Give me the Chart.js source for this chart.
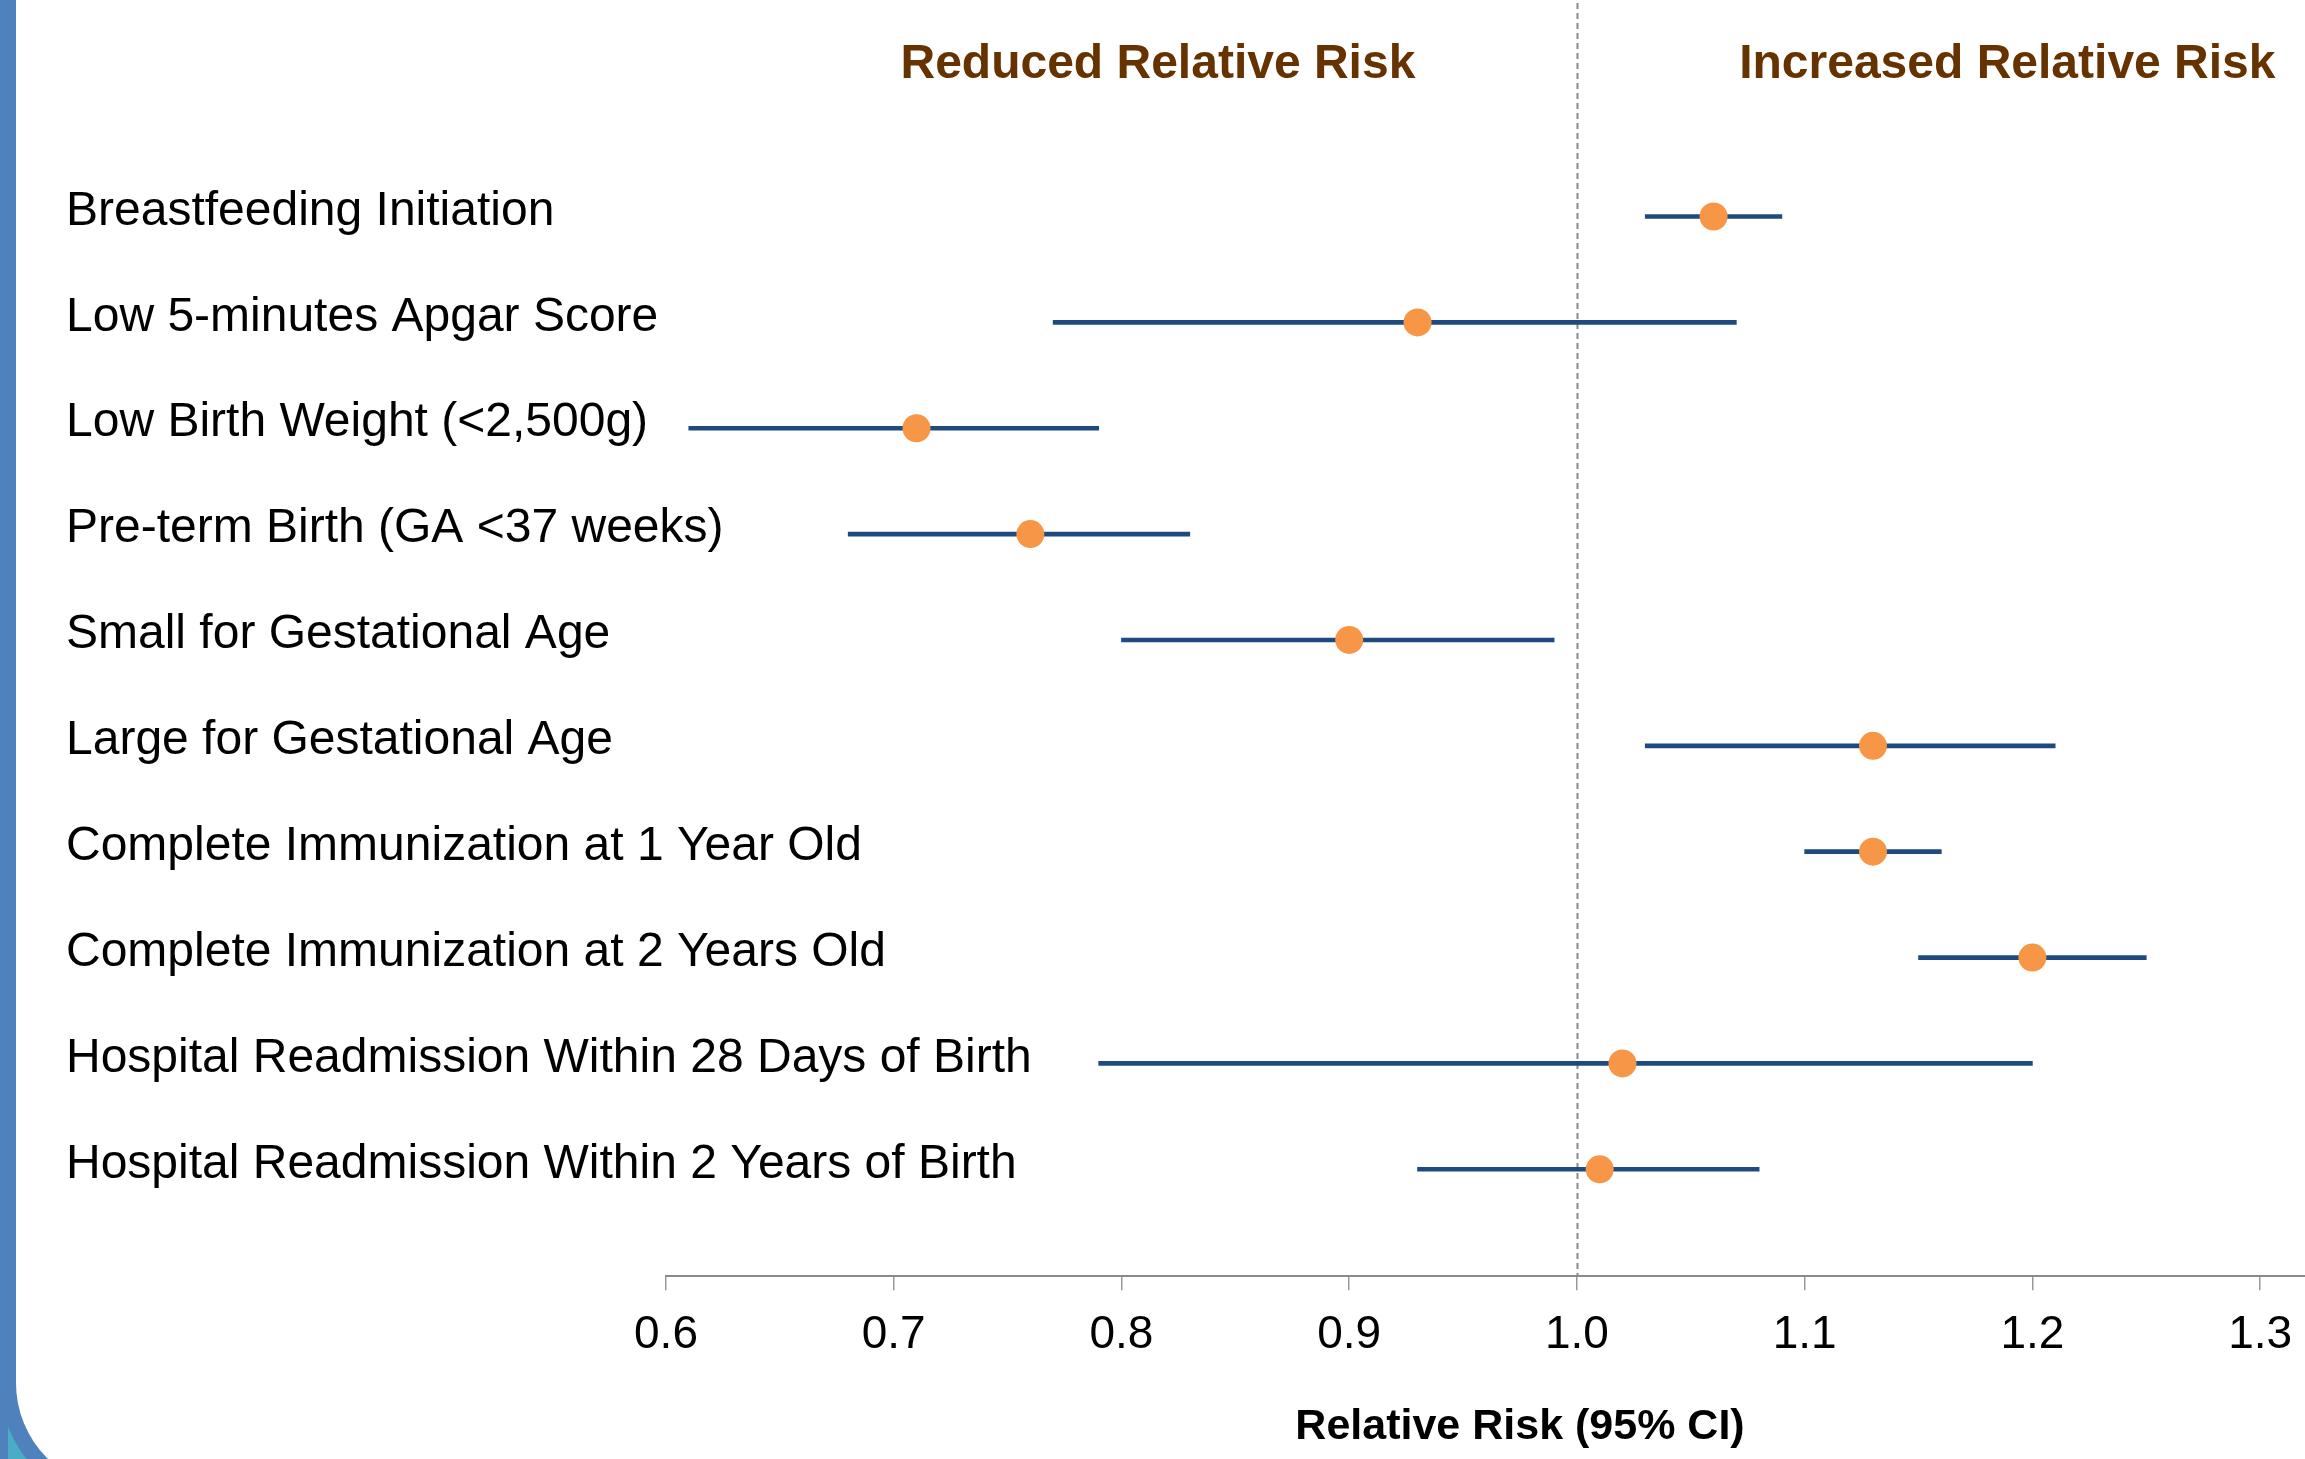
<!DOCTYPE html>
<html>
<head>
<meta charset="utf-8">
<title>Relative Risk (95% CI)</title>
<script src="https://cdn.jsdelivr.net/npm/chart.js@4.4.1/dist/chart.umd.min.js"></script>
<style>
html, body { margin: 0; padding: 0; width: 2305px; height: 1459px; overflow: hidden; background: #fff; position: relative; }
.teal { position: absolute; left: 8px; top: 1383px; width: 150px; height: 100px; background: #4BACC6; }
.ring { position: absolute; left: 0; top: -200px; width: 2600px; height: 1705px; background: #4F81BD; border-bottom-left-radius: 122px; }
.strip { position: absolute; left: 0; top: 0; width: 8px; height: 1459px; background: #4F81BD; }
.sheet { position: absolute; left: 16px; top: -200px; width: 2600px; height: 1689px; background: #fff; border-bottom-left-radius: 106px; }
canvas { position: absolute; left: 0; top: 0; }
</style>
</head>
<body>
<div class="teal"></div>
<div class="ring"></div>
<div class="strip"></div>
<div class="sheet"></div>
<canvas id="chart" width="2388" height="1459"></canvas>
<script>
var categories = [
    'Breastfeeding Initiation',
    'Low 5-minutes Apgar Score',
    'Low Birth Weight (<2,500g)',
    'Pre-term Birth (GA <37 weeks)',
    'Small for Gestational Age',
    'Large for Gestational Age',
    'Complete Immunization at 1 Year Old',
    'Complete Immunization at 2 Years Old',
    'Hospital Readmission Within 28 Days of Birth',
    'Hospital Readmission Within 2 Years of Birth'
]
var estimates = [1.06, 0.93, 0.71, 0.76, 0.90, 1.13, 1.13, 1.20, 1.02, 1.01]
var lowerCI   = [1.03, 0.77, 0.61, 0.68, 0.80, 1.03, 1.10, 1.15, 0.79, 0.93]
var upperCI   = [1.09, 1.07, 0.79, 0.83, 0.99, 1.21, 1.16, 1.25, 1.20, 1.08]
var xTicks = [0.6, 0.7, 0.8, 0.9, 1.0, 1.1, 1.2, 1.3]
var headers = ['Reduced Relative Risk', 'Increased Relative Risk']
var axisTitle = 'Relative Risk (95% CI)'

Chart.defaults.font.family = '"Liberation Sans", Arial, sans-serif'
Chart.defaults.color = '#000'

// dashed line at RR = 1 and the two header labels
var overlay = {
    id: 'overlay',
    beforeDatasetsDraw: function(chart) {
        var ctx = chart.ctx
        var x = chart.scales.x
        var px = Math.round(x.getPixelForValue(1.0)) + 0.5
        ctx.save()
        ctx.strokeStyle = '#8a8a8a'
        ctx.lineWidth = 2
        ctx.setLineDash([6, 4])
        ctx.beginPath()
        ctx.moveTo(px, 3)
        ctx.lineTo(px, chart.chartArea.bottom)
        ctx.stroke()
        ctx.restore()
    },
    afterDraw: function(chart) {
        var ctx = chart.ctx
        var x = chart.scales.x
        ctx.save()
        ctx.font = 'bold 48px "Liberation Sans", Arial, sans-serif'
        ctx.fillStyle = '#663300'
        ctx.textAlign = 'center'
        ctx.textBaseline = 'middle'
        ctx.fillText(headers[0], x.getPixelForValue(0.816), 65)
        ctx.fillText(headers[1], x.getPixelForValue(1.189), 65)
        ctx.restore()
    }
}

new Chart(document.getElementById('chart').getContext('2d'), {
    type: 'scatter',
    data: {
        datasets: [{
            type: 'scatter',
            data: estimates.map(function(v, i) { return {x: v, y: i} }),
            pointRadius: 14,
            pointHoverRadius: 14,
            pointBackgroundColor: '#F79646',
            pointBorderWidth: 0,
            order: 0
        }, {
            type: 'bar',
            indexAxis: 'y',
            data: lowerCI.map(function(v, i) { return {x: [v, upperCI[i]], y: i} }),
            backgroundColor: '#1F4A7E',
            barThickness: 4,
            borderWidth: 0,
            order: 1
        }]
    },
    options: {
        responsive: false,
        animation: false,
        devicePixelRatio: 1,
        layout: { padding: { left: 66, right: 0, top: 0, bottom: 6 } },
        plugins: { legend: { display: false }, tooltip: { enabled: false } },
        scales: {
            x: {
                type: 'linear',
                min: 0.6,
                max: 1.35,
                offset: false,
                afterBuildTicks: function(scale) {
                    scale.ticks = xTicks.map(function(v) { return {value: v} })
                },
                ticks: {
                    font: { size: 46 },
                    padding: 18,
                    callback: function(v) { return Number(v).toFixed(1) }
                },
                grid: { offset: false, drawOnChartArea: false, drawTicks: true, tickLength: 14, color: '#999', lineWidth: 1.5 },
                border: { display: true, color: '#8a8a8a', width: 2 },
                title: {
                    display: true,
                    text: axisTitle,
                    font: { size: 43, weight: 'bold' },
                    padding: { top: 20, bottom: 0 }
                }
            },
            y: {
                type: 'linear',
                reverse: true,
                min: -1.913,
                max: 10.01,
                offset: false,
                afterBuildTicks: function(scale) {
                    scale.ticks = categories.map(function(c, i) { return {value: i} })
                },
                afterFit: function(scale) {
                    scale.width = 600
                    scale.paddingTop = 0
                    scale.paddingBottom = 0
                },
                ticks: {
                    font: { size: 48 },
                    mirror: true,
                    crossAlign: 'near',
                    padding: -600,
                    labelOffset: -5,
                    callback: function(v) { return categories[v] }
                },
                grid: { display: false, offset: false },
                border: { display: false }
            }
        }
    },
    plugins: [overlay]
})
</script>
</body>
</html>
